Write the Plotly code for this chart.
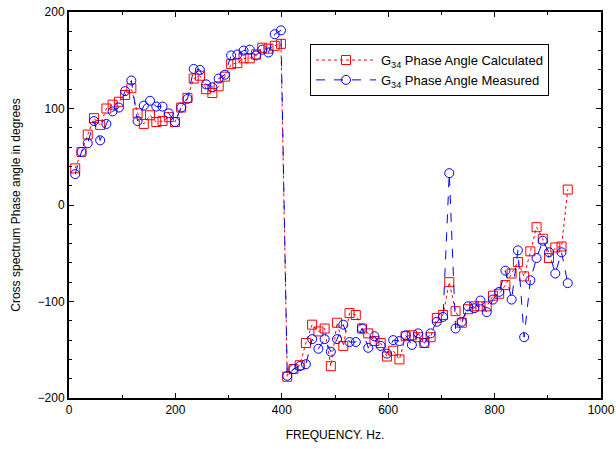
import plotly.graph_objects as go

freq_hz = [11.7, 23.4, 35.2, 46.9, 58.6, 70.3, 82.0, 93.8, 105.5, 117.2,
           128.9, 140.6, 152.3, 164.1, 175.8, 187.5, 199.2, 210.9, 222.7, 234.4,
           246.1, 257.8, 269.5, 281.3, 293.0, 304.7, 316.4, 328.1, 339.8, 351.6,
           363.3, 375.0, 386.7, 398.4, 410.2, 421.9, 433.6, 445.3, 457.0, 468.8,
           480.5, 492.2, 503.9, 515.6, 527.3, 539.1, 550.8, 562.5, 574.2, 585.9,
           597.7, 609.4, 621.1, 632.8, 644.5, 656.3, 668.0, 679.7, 691.4, 703.1,
           714.8, 726.6, 738.3, 750.0, 761.7, 773.4, 785.2, 796.9, 808.6, 820.3,
           832.0, 843.8, 855.5, 867.2, 878.9, 890.6, 902.3, 914.1, 925.8, 937.5]

phase_calculated = [38, 55, 73, 90, 83, 100, 104, 107, 114, 121,
                    95, 84, 93, 86, 87, 91, 86, 101, 111, 131,
                    134, 120, 116, 123, 133, 146, 147, 152, 152, 156,
                    163, 162, 165, 167, -178, -170, -166, -143, -124, -131,
                    -128, -167, -122, -146, -112, -114, -128, -133, -141, -143,
                    -157, -151, -160, -136, -135, -137, -143, -137, -117, -114,
                    -80, -110, -122, -108, -105, -105, -105, -94, -92, -83,
                    -71, -59, -74, -48, -23, -35, -55, -44, -43, 16]

phase_measured = [32, 55, 64, 87, 67, 84, 97, 101, 118, 129,
                  87, 103, 108, 102, 102, 95, 86, 101, 110, 141,
                  140, 125, 122, 131, 135, 155, 156, 160, 161, 155,
                  161, 158, 177, 181, -177, -170, -167, -165, -139, -149,
                  -139, -152, -139, -124, -142, -142, -128, -148, -136, -146,
                  -154, -140, -141, -135, -145, -133, -143, -133, -121, -116,
                  33, -128, -121, -105, -107, -99, -111, -98, -90, -68,
                  -98, -47, -137, -78, -55, -37, -49, -71, -49, -81]

x_ticks = [0, 200, 400, 600, 800, 1000]
y_ticks = [-200, -100, 0, 100, 200]

FONT = "Liberation Sans, Arial, sans-serif"

fig = go.Figure()
fig.add_trace(go.Scatter(
    x=freq_hz, y=phase_calculated, mode="lines+markers",
    name="G<sub>34</sub> Phase Angle Calculated",
    line=dict(color="#ff0000", width=1, dash="dot"),
    marker=dict(symbol="square-open", size=9, color="#ff0000", line=dict(width=1)),
))
fig.add_trace(go.Scatter(
    x=freq_hz, y=phase_measured, mode="lines+markers",
    name="G<sub>34</sub> Phase Angle Measured",
    line=dict(color="#0000ff", width=1, dash="dash"),
    marker=dict(symbol="circle-open", size=9, color="#0000ff", line=dict(width=1)),
))

axis_common = dict(
    showgrid=False, zeroline=False, showline=True, linecolor="black", linewidth=2,
    mirror="allticks", ticks="inside", ticklen=5, tickwidth=1, tickcolor="black",
    tickfont=dict(family=FONT, size=12, color="black"), automargin=False,
)

fig.update_xaxes(range=[0, 1000], tickvals=x_ticks,
                 minor=dict(dtick=100, ticks="inside", ticklen=3, tickcolor="black"),
                 title=dict(text="FREQUENCY. Hz.", font=dict(family=FONT, size=12, color="black"), standoff=14),
                 **axis_common)
fig.update_yaxes(range=[-200, 200], tickvals=y_ticks,
                 minor=dict(dtick=20, ticks="inside", ticklen=3, tickcolor="black"),
                 title=dict(text="Cross spectrum Phase angle in degrees", font=dict(family=FONT, size=12, color="black"), standoff=14),
                 **axis_common)

fig.update_layout(
    width=616, height=449,
    margin=dict(l=69, r=15, t=12, b=51),
    plot_bgcolor="white", paper_bgcolor="white",
    font=dict(family=FONT, size=12, color="black"),
    showlegend=True,
    legend=dict(x=0.453, y=0.917, xanchor="left", yanchor="top",
                bordercolor="black", borderwidth=1, bgcolor="white",
                font=dict(family=FONT, size=13, color="black"),
                tracegroupgap=0, itemwidth=60),
)

fig.write_html("out.html")
